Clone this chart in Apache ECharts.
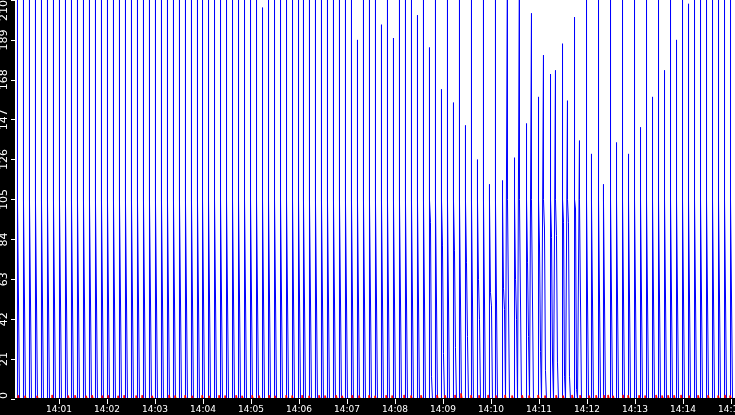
<!DOCTYPE html>
<html>
<head>
<meta charset="utf-8">
<script src="https://cdn.jsdelivr.net/npm/echarts@6/dist/echarts.min.js"></script>
<style>
html,body{margin:0;padding:0;background:#000;}
#c{width:735px;height:415px;}
</style>
</head>
<body>
<div id="c"></div>
<script>
// time in seconds after 14:00:00
const xMinSec = 5;
const xMaxSec = 905;
const tickSecs = [60,120,180,240,300,360,420,480,540,600,660,720,780,840,900];
const tickLabels = ['14:01','14:02','14:03','14:04','14:05','14:06','14:07','14:08','14:09','14:10','14:11','14:12','14:13','14:14','14:15'];

// blue traffic bursts: time of burst, burst peak (values > 210 are off the scale)
const spikeTimes = [
  8.1,15.6,23.1,30.6,38.1,45.6,53.1,60.6,68.1,75.6,83.1,90.6,98.1,105.6,113.1,120.6,128.1,135.6,143.1,150.6,158.1,165.6,173.1,180.6,188.1,195.6,203.1,210.6,218.1,225.6,233.1,
  239.4,246.9,254.4,261.9,269.4,276.9,284.4,291.9,299.4,306.9,314.4,321.9,329.4,336.9,344.4,351.9,359.4,
  365.6,373.1,380.6,388.1,395.6,403.1,410.6,418.1,425.6,433.1,440.6,448.1,455.6,463.1,470.6,478.1,485.6,493.1,500.6,508.1,515.6,523.1,530.6,538.1,545.6,553.1,560.6,568.1,575.6,583.1,590.6,598.1,
  605.6,614.4,620.6,629.4,635.6,644.4,650.6,659.4,665.6,674.4,680.6,689.4,695.6,704.4,710.6,719.4,725.6,734.4,740.6,749.4,
  756.9,764.4,771.9,779.4,786.9,794.4,801.9,809.4,816.9,824.4,831.9,839.4,846.9,854.4,861.9,869.4,876.9,884.4,891.9,899.4
];
const spikePeaks = [
  240,240,240,240,240,240,240,240,240,240,240,240,240,240,240,240,240,240,240,240,240,240,240,240,240,240,240,240,240,240,240,
  240,240,240,240,240,240,240,240,240,240,206,240,240,240,240,240,240,
  240,240,240,240,240,240,240,240,240,189,240,240,240,197,240,190,240,240,240,202,240,185,240,163,240,156,240,144,240,126,240,113,
  240,115,240,127,240,145,203,159,181,171,173,187,157,201,136,240,129,240,113,240,
  135,240,129,240,143,240,159,240,173,240,189,240,208,240,240,240,240,240,240,240
];
// level that each burst holds before dropping back to zero
const pulseLevel = 105;
// bursts that fall back in steps: level of the first step (null = falls straight to zero)
const pulseStep = [
  null,null,null,null,null,null,null,null,null,null,null,null,null,null,null,null,null,null,null,null,null,null,null,null,null,null,null,null,null,null,null,
  null,null,null,null,null,null,null,null,null,null,null,null,null,null,null,null,null,
  null,null,null,null,null,null,null,null,null,null,null,null,null,null,null,null,null,null,null,null,null,93,null,81,null,78,null,72,null,63,null,56,
  null,58,null,63,null,72,null,80,90,85,86,93,93,100,null,null,null,null,null,null,
  null,null,null,null,null,null,null,null,null,null,null,null,null,null,null,null,null,null,null,null
];

// small red trace near zero
const redTimes = [
  9.4,18.1,33.1,51.9,71.9,80.6,94.4,101.9,114.4,121.9,134.4,141.9,156.9,164.4,176.9,198.1,205.6,218.1,226.9,
  239.4,248.1,260.6,268.1,281.9,289.4,301.9,310.6,323.1,330.6,344.4,351.9,364.4,373.1,385.6,393.1,406.9,414.4,426.9,435.6,448.1,455.6,469.4,476.9,
  491.9,500.6,513.1,533.1,543.1,555.6,563.1,575.6,585.6,596.9,606.9,618.1,626.9,639.4,648.1,659.4,668.1,681.9,690.6,701.9,
  711.9,723.1,731.9,
  741.9,746.9,753.1,765.6,771.9,785.6,793.1,806.9,814.4,821.9,829.4,838.1,848.1,859.4,871.9,884.4,893.1,899.4
];
const redValues = [
  2.0,1.7,1.7,2.1,1.8,2.0,1.7,2.0,1.8,2.0,1.7,2.0,1.8,2.0,1.7,2.1,1.8,2.0,1.7,
  2.0,1.7,2.0,1.8,2.0,1.7,2.0,1.8,2.0,1.7,2.0,1.8,2.0,1.7,2.0,1.8,2.0,1.7,2.0,1.8,2.0,1.7,2.0,1.8,
  2.1,1.8,2.0,2.1,2.0,2.1,3.0,2.0,2.0,2.1,1.8,2.1,1.8,2.0,1.8,2.1,1.8,2.0,1.8,2.1,
  2.0,1.8,2.0,
  2.0,2.1,1.7,2.1,2.0,2.0,1.8,2.1,1.8,2.0,2.0,2.1,1.8,2.0,2.0,1.8,2.1,1.8
];

// one screen pixel of time (seconds) used for the width of each burst
const pixelSec = (xMaxSec - xMinSec) / 720;
const blueData = [];
spikeTimes.forEach(function (t, i) {
  const a = pulseStep[i];
  blueData.push([t, 0], [t, spikePeaks[i]], [t, pulseLevel]);
  if (a === null) {
    blueData.push([t + 2 * pixelSec, pulseLevel], [t + 2 * pixelSec, 0]);
  } else {
    const b = pulseLevel - a;
    blueData.push([t + pixelSec, pulseLevel], [t + pixelSec, a], [t + 2 * pixelSec, a],
                  [t + 2 * pixelSec, b], [t + 3 * pixelSec, b], [t + 3 * pixelSec, 0]);
  }
});
const redData = [];
redTimes.forEach(function (t, i) {
  const h = pixelSec * 0.5;
  redData.push([t - h, 0], [t - h, redValues[i]], [t + h, redValues[i]], [t + h, 0]);
});

const chart = echarts.init(document.getElementById('c'), null, {renderer: 'canvas'});
chart.setOption({
  animation: false,
  backgroundColor: '#000',
  grid: {left: 15, right: 0, top: 0, bottom: 16, show: true, backgroundColor: '#fff', borderWidth: 0,
         containLabel: false, outerBoundsMode: 'none'},
  xAxis: {
    type: 'value', min: xMinSec, max: xMaxSec, z: 10,
    axisLine: {show: true, onZero: false, lineStyle: {color: '#000', width: 2}},
    axisTick: {show: true, length: 5, customValues: tickSecs, lineStyle: {color: '#fff', width: 1}},
    axisLabel: {
      customValues: tickSecs, color: '#fff', fontFamily: 'DejaVu Sans', fontSize: 9, margin: 6,
      formatter: function (v) { const k = tickSecs.indexOf(v); return k >= 0 ? tickLabels[k] : ''; }
    },
    splitLine: {show: false}
  },
  yAxis: {
    type: 'value', min: 0, max: 210, interval: 21, z: 10,
    axisLine: {show: false},
    axisTick: {show: true, length: 4, lineStyle: {color: '#fff', width: 1}},
    axisLabel: {rotate: 90, color: '#fff', fontFamily: 'DejaVu Sans', fontSize: 11, margin: 5,
      alignMinLabel: 'left', alignMaxLabel: 'right'},
    splitLine: {show: false}
  },
  series: [
    {type: 'line', data: blueData, symbol: 'none', silent: true, clip: true,
     lineStyle: {color: '#0000ff', width: 1}, itemStyle: {color: '#0000ff'}, z: 2},
    {type: 'line', data: redData, symbol: 'none', silent: true, clip: true,
     lineStyle: {color: '#ff0000', width: 1.5}, itemStyle: {color: '#ff0000'}, z: 3}
  ]
});
</script>
</body>
</html>
